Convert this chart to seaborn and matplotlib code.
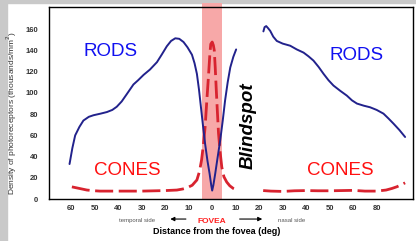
import numpy as np
import pandas as pd
import matplotlib.pyplot as plt
import matplotlib.patches as mpatches
import seaborn as sns

# rods density (thousands/mm2), temporal and nasal parts
rods_temporal_deg = [-60.7, -59.5, -58.3, -56.5, -54.8, -52.5, -50.5, -47.5, -44.8, -42.5,
                     -40.6, -38.5, -36.3, -33.5, -31.5, -29.2, -26.5, -23.5, -21.5, -19.3,
                     -17.5, -15.7, -14.0, -12.2, -10.5, -8.6, -7.5, -6.5, -5.6, -4.8,
                     -3.9, -3.0, -2.0, -1.1, -0.4, 0.0, 0.5, 1.3, 2.3, 3.4,
                     4.5, 5.5, 6.6, 7.7, 9.0, 10.2]
rods_temporal = [33, 48, 60, 68, 74, 77.5, 79, 80.5, 82, 84,
                 87, 92, 99, 108, 112, 117, 122, 129, 136, 144,
                 149, 151.5, 151, 148, 143, 136, 128, 118, 103, 87,
                 69, 52, 36, 24, 13, 8, 13, 24, 39, 55,
                 74, 93, 110, 124, 134, 141]
rods_nasal_deg = [21.8, 22.3, 23.0, 23.8, 24.7, 26.0, 27.5, 30.0, 33.2, 36.0,
                  38.9, 41.0, 43.1, 45.3, 47.4, 49.5, 51.6, 54.5, 57.3, 59.5,
                  61.6, 64.5, 67.2, 70.0, 72.9, 75.0, 77.2, 79.7, 82.1]
rods_nasal = [158, 162, 163, 161, 158.5, 153, 149, 146.5, 144.5, 141,
              138, 134.5, 130.5, 124.5, 118, 112, 107, 102, 97.5, 93,
              90, 88, 86.5, 84, 80.5, 76, 71, 65, 58.5]

# cones density
cones_temporal_deg = [-59.7, -56.5, -53.3, -50, -47.7, -40, -30, -20, -15, -12.5,
                      -10.8, -8.5, -6.5, -5.4, -4.5, -3.7, -3.0, -2.3, -1.6, -1.0,
                      -0.6, 0.0, 0.5, 0.9, 1.3, 1.7, 2.2, 2.7, 3.4, 4.1,
                      5.0, 6.2, 7.5, 9.0, 10.0]
cones_temporal = [11.5, 10, 8.5, 7.8, 7.5, 7.5, 7.5, 8, 8.5, 9.5,
                  10.5, 13, 18, 26, 37, 52, 68, 92, 115, 136,
                  146, 148, 145, 140, 124, 105, 83, 62, 44, 30,
                  21, 16, 12.5, 10, 9]
cones_nasal_deg = [21.7, 25, 30, 35, 40, 45, 50, 55, 60, 65, 70, 74, 76.5, 78.6, 80.5, 82.1]
cones_nasal = [8, 7.5, 7.2, 7.8, 8, 7.8, 7.8, 8, 8.2, 7.5, 7.5, 8.5, 10, 11.6, 13.5, 15.3]

tick_pos = [-60, -50, -40, -30, -20, -10, 0, 10, 20, 30, 40, 50, 60, 70]
tick_labels = ['60', '50', '40', '30', '20', '10', '0', '10', '20', '30', '40', '50', '60', '80']
y_ticks = [0, 20, 40, 60, 80, 100, 120, 140, 160]

sns.set_style('white')
plt.rcParams['font.family'] = ['Liberation Sans', 'DejaVu Sans']

fig, ax = plt.subplots(figsize=(4.16, 2.41), dpi=100)
fig.subplots_adjust(left=0.118, right=0.993, bottom=0.174, top=0.971)

# grey frame strips of the original slide
fig.patches.append(mpatches.Rectangle((0, 0), 7 / 416, 1, transform=fig.transFigure,
                                      color='#c9c9c9', zorder=-1))
fig.patches.append(mpatches.Rectangle((0, 1 - 3 / 241), 1, 3 / 241, transform=fig.transFigure,
                                      color='#c9c9c9', zorder=-1))

# fovea band
ax.axvspan(-4.2, 4.2, ymin=0, ymax=1.02, color='#f7a8a8', lw=0, clip_on=False, zorder=0)

segments = [
    (rods_temporal_deg, rods_temporal, 'rods'),
    (rods_nasal_deg, rods_nasal, 'rods'),
    (cones_temporal_deg, cones_temporal, 'cones'),
    (cones_nasal_deg, cones_nasal, 'cones'),
]
for xs, ys, kind in segments:
    d = pd.DataFrame({'deg': xs, 'density': ys})
    if kind == 'rods':
        sns.lineplot(data=d, x='deg', y='density', ax=ax, color='#22228c', lw=1.4,
                     sort=False, estimator=None, zorder=3)
    else:
        sns.lineplot(data=d, x='deg', y='density', ax=ax, color='#d8232f', lw=2.0,
                     sort=False, estimator=None, dashes=False, zorder=2)
        ax.lines[-1].set_dashes((6.5, 2.0))

ax.set_xlim(-69.4, 85.5)
ax.set_ylim(0, 181)
ax.set_xticks(tick_pos)
ax.set_xticklabels(tick_labels)
ax.set_yticks(y_ticks)
ax.tick_params(axis='both', direction='in', length=3, width=0.8, color='black',
               labelsize=5.5, labelcolor='#333333')
ax.tick_params(axis='x', pad=4)
ax.tick_params(axis='y', pad=8)
for lab in ax.get_xticklabels() + ax.get_yticklabels():
    lab.set_fontweight('bold')
for sp in ax.spines.values():
    sp.set_color('black')
    sp.set_linewidth(1.0)

ax.set_ylabel('Density of photoreceptors (thousands/mm$^2$)', fontsize=6, color='#333333')
ax.yaxis.set_label_coords(-0.082, 0.45)
ax.set_xlabel('Distance from the fovea (deg)', fontsize=6.5, fontweight='bold', color='black')
ax.xaxis.set_label_coords(0.46, -0.145)

ax.text(-43.4, 139, 'RODS', color='#1010f0', fontsize=13.5, ha='center', va='center')
ax.text(61.3, 135, 'RODS', color='#1010f0', fontsize=13.5, ha='center', va='center')
ax.text(-36.2, 27, 'CONES', color='#ff1010', fontsize=13.5, ha='center', va='center')
ax.text(54.5, 27, 'CONES', color='#ff1010', fontsize=13.5, ha='center', va='center')
ax.text(15.3, 69.5, 'Blindspot', color='black', fontsize=13.5, fontweight='bold',
        style='italic', rotation=90, ha='center', va='center')

trans = ax.get_xaxis_transform()
ax.text(0, -0.115, 'FOVEA', color='#ff2020', fontsize=6, fontweight='bold',
        ha='center', va='center', transform=trans, clip_on=False)
ax.text(-32, -0.11, 'temporal side', color='#555555', fontsize=4.3,
        ha='center', va='center', transform=trans, clip_on=False)
ax.text(33.6, -0.11, 'nasal side', color='#555555', fontsize=4.3,
        ha='center', va='center', transform=trans, clip_on=False)
ax.annotate('', xy=(-19, -0.104), xytext=(-10, -0.104), xycoords=trans, textcoords=trans,
            arrowprops=dict(arrowstyle='-|>', color='black', lw=0.8, mutation_scale=6),
            annotation_clip=False)
ax.annotate('', xy=(22.5, -0.104), xytext=(10.5, -0.104), xycoords=trans, textcoords=trans,
            arrowprops=dict(arrowstyle='-|>', color='black', lw=0.8, mutation_scale=6),
            annotation_clip=False)

fig.savefig('out.png', dpi=100)
